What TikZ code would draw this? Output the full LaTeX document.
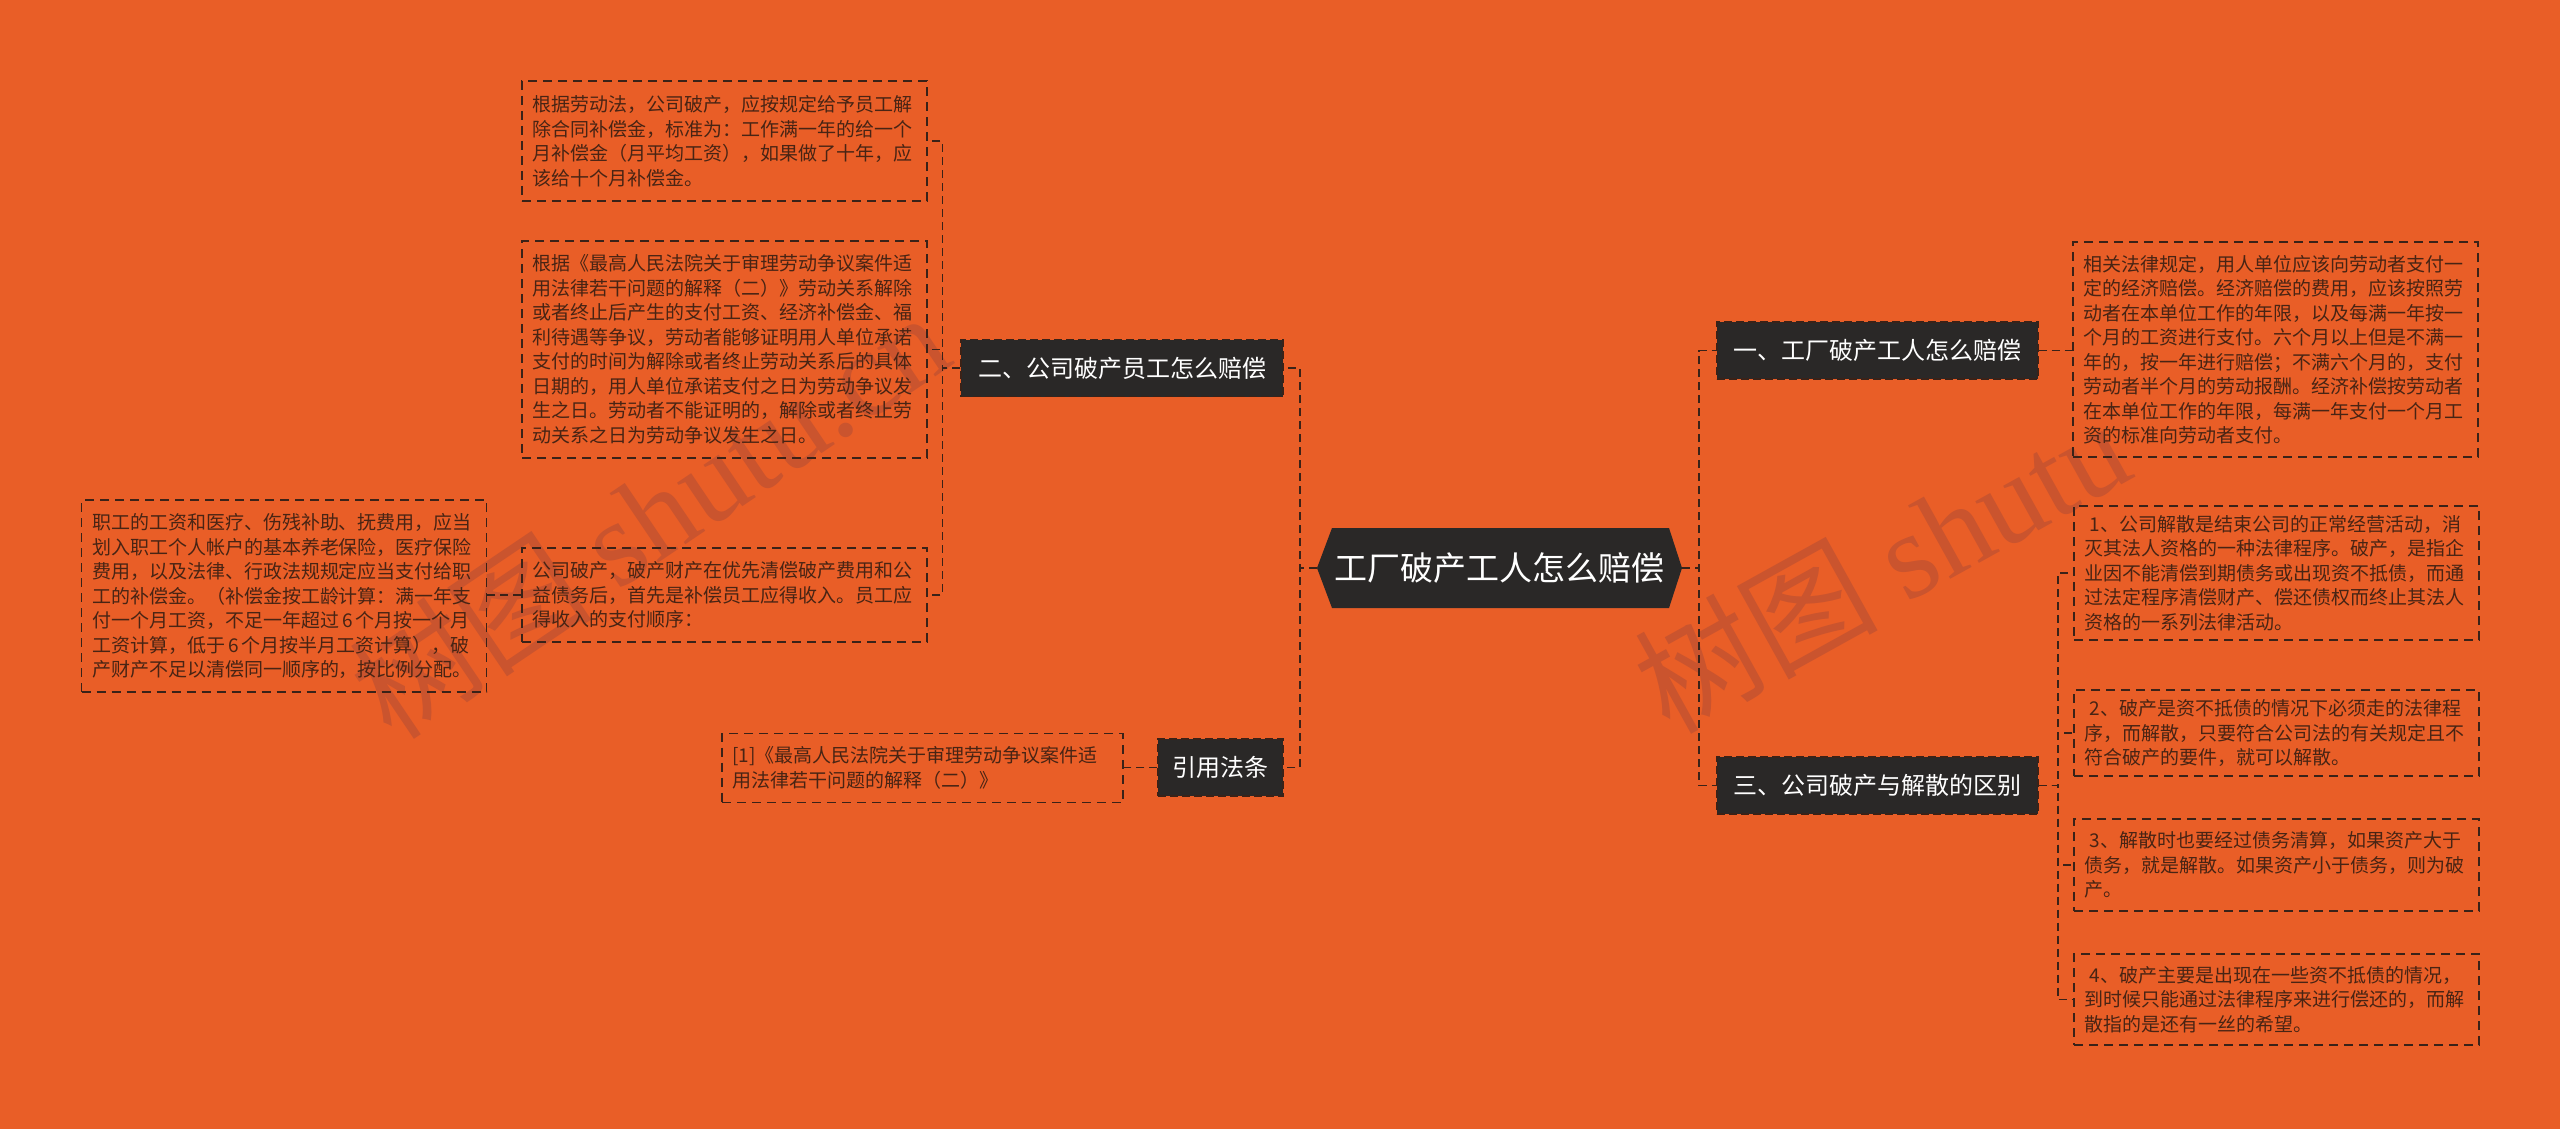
\documentclass[tikz,border=0pt]{standalone}
\usepackage{fontspec}
\setmainfont{Noto Sans CJK SC}
\newfontfamily\capfont{Liberation Serif}
\usetikzlibrary{positioning}

\definecolor{latar}{RGB}{233,94,39}
\definecolor{gelap}{RGB}{42,40,39}
\definecolor{teks}{RGB}{72,36,20}
\definecolor{garis}{RGB}{58,34,24}
\definecolor{tanda}{RGB}{202,84,46}

\tikzset{
  link/.style={draw=garis, line width=1.8pt, dash pattern=on 8pt off 5pt},
  topik/.style={fill=gelap, draw=garis, line width=1.2pt, dash pattern=on 8pt off 4pt,
    text=white, font=\fontsize{24}{28}\selectfont, minimum height=57pt,
    inner xsep=13pt, inner ysep=0pt},
  rinci/.style={draw=garis, line width=1.6pt, dash pattern=on 9pt off 6pt,
    text=teks, font=\fontsize{19}{24.5}\selectfont, align=left,
    text width=384pt, inner xsep=10.5pt, inner ysep=0pt},
  pusat/.style={minimum width=365pt, minimum height=80pt, inner sep=0pt,
    text=white, font=\fontsize{33}{36}\selectfont,
    path picture={\fill[gelap] (path picture bounding box.west)
      -- ([xshift=15pt]path picture bounding box.north west)
      -- ([xshift=-13pt]path picture bounding box.north east)
      -- (path picture bounding box.east)
      -- ([xshift=-13pt]path picture bounding box.south east)
      -- ([xshift=15pt]path picture bounding box.south west) -- cycle;}},
  tandaair/.style={text=tanda, font=\fontsize{122}{126}\selectfont, inner sep=0pt}
}

\begin{document}
\begin{tikzpicture}[x=1pt,y=-1pt]
  % Latar
  \fill[latar] (0,0) rectangle (2560,1129);
  \useasboundingbox (0,0) rectangle (2560,1129);

  % Tanda air
  \node[tandaair, rotate=34] (capkiri) at (649,514) {树图 {\capfont shutu.cn}};
  \node[tandaair, rotate=29] (capkanan) at (1881,565) {树图 {\capfont shutu}};

  % Simpul pusat
  \node[pusat] (root) at (1499.5,568) {工厂破产工人怎么赔偿};

  % Cabang utama
  \node[topik, minimum width=322pt] (dua) at (1122,368) {二、公司破产员工怎么赔偿};
  \node[topik, minimum width=125pt] (kutip) at (1220.5,767.5) {引用法条};
  \node[topik, minimum width=321pt] (satu) at (1877.5,350.5) {一、工厂破产工人怎么赔偿};
  \node[topik, minimum width=321pt] (tiga) at (1877.5,785.5) {三、公司破产与解散的区别};

  % Rincian kiri
  \node[rinci, minimum height=120pt] (lawA) at (724.5,141) {根据劳动法，公司破产，应按规定给予员工解\\除合同补偿金，标准为：工作满一年的给一个\\月补偿金（月平均工资），如果做了十年，应\\该给十个月补偿金。};
  \node[rinci, minimum height=217pt] (lawB) at (724.5,349.5) {根据《最高人民法院关于审理劳动争议案件适\\用法律若干问题的解释（二）》劳动关系解除\\或者终止后产生的支付工资、经济补偿金、福\\利待遇等争议，劳动者能够证明用人单位承诺\\支付的时间为解除或者终止劳动关系后的具体\\日期的，用人单位承诺支付之日为劳动争议发\\生之日。劳动者不能证明的，解除或者终止劳\\动关系之日为劳动争议发生之日。};
  \node[rinci, minimum height=94pt] (lawC) at (724.5,595) {公司破产，破产财产在优先清偿破产费用和公\\益债务后，首先是补偿员工应得收入。员工应\\得收入的支付顺序：};
  \node[rinci, minimum height=192pt] (lawD) at (284,596) {职工的工资和医疗、伤残补助、抚费用，应当\\划入职工个人帐户的基本养老保险，医疗保险\\费用，以及法律、行政法规规定应当支付给职\\工的补偿金。（补偿金按工龄计算：满一年支\\付一个月工资，不足一年超过\,6\,个月按一个月\\工资计算，低于\,6\,个月按半月工资计算），破\\产财产不足以清偿同一顺序的，按比例分配。};
  \node[rinci, text width=380pt, minimum height=69pt] (citeE) at (922.5,768) {[1]《最高人民法院关于审理劳动争议案件适\\用法律若干问题的解释（二）》};

  % Rincian kanan
  \node[rinci, minimum height=215pt] (detF) at (2275.5,349.5) {相关法律规定，用人单位应该向劳动者支付一\\定的经济赔偿。经济赔偿的费用，应该按照劳\\动者在本单位工作的年限，以及每满一年按一\\个月的工资进行支付。六个月以上但是不满一\\年的，按一年进行赔偿；不满六个月的，支付\\劳动者半个月的劳动报酬。经济补偿按劳动者\\在本单位工作的年限，每满一年支付一个月工\\资的标准向劳动者支付。};
  \node[rinci, minimum height=134pt] (detG) at (2276.5,573) {\hspace*{5pt}1、公司解散是结束公司的正常经营活动，消\\灭其法人资格的一种法律程序。破产，是指企\\业因不能清偿到期债务或出现资不抵债，而通\\过法定程序清偿财产、偿还债权而终止其法人\\资格的一系列法律活动。};
  \node[rinci, minimum height=86pt] (detH) at (2276.5,733) {\hspace*{5pt}2、破产是资不抵债的情况下必须走的法律程\\序，而解散，只要符合公司法的有关规定且不\\符合破产的要件，就可以解散。};
  \node[rinci, minimum height=92pt] (detI) at (2276.5,865) {\hspace*{5pt}3、解散时也要经过债务清算，如果资产大于\\债务，就是解散。如果资产小于债务，则为破\\产。};
  \node[rinci, minimum height=91pt] (detJ) at (2276.5,999.5) {\hspace*{5pt}4、破产主要是出现在一些资不抵债的情况，\\到时候只能通过法律程序来进行偿还的，而解\\散指的是还有一丝的希望。};

  % Garis penghubung
  \draw[link] (root.west) -- ++(-17,0) |- (dua.east);
  \draw[link] (root.west) -- ++(-17,0) |- (kutip.east);
  \draw[link] (root.east) -- ++(17,0) |- (satu.west);
  \draw[link] (root.east) -- ++(17,0) |- (tiga.west);
  \foreach \n in {lawA,lawB,lawC}
    {
      \draw[link] (dua.west) -- ++(-18,0) |- (\n.east);
    }
  \draw[link] (lawC.west) -- (lawC.west -| lawD.east);
  \draw[link] (kutip.west) -- (kutip.west -| citeE.east);
  \draw[link] (satu.east) -- (satu.east -| detF.west);
  \foreach \n in {detG,detH,detI,detJ}
    {
      \draw[link] (tiga.east) -- ++(19,0) |- (\n.west);
    }
\end{tikzpicture}
\end{document}
